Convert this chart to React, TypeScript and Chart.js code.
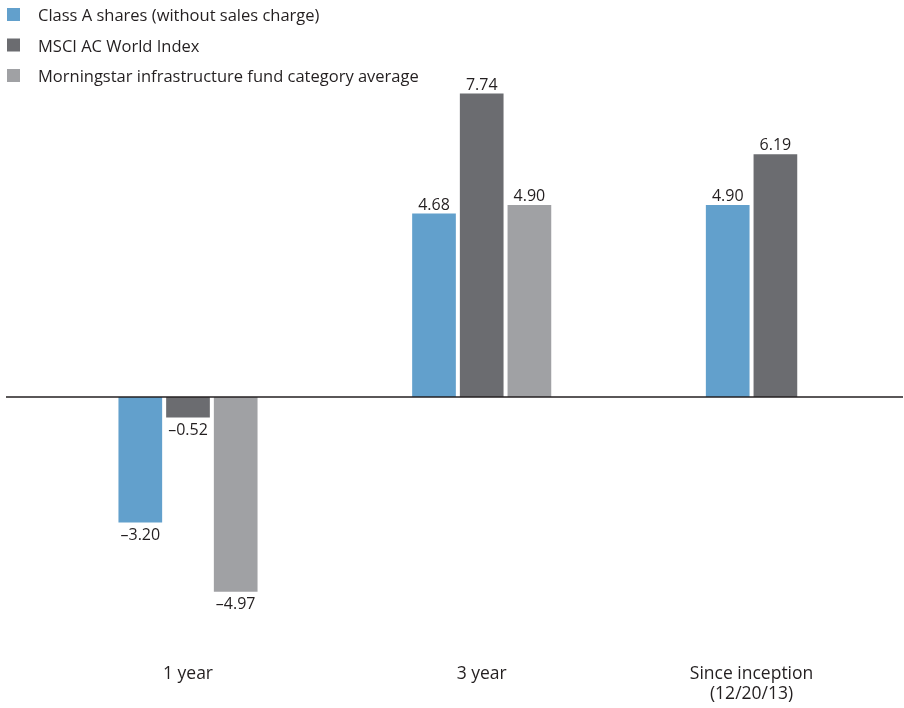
import React, { useEffect, useRef } from "react";
import { Chart, registerables } from "chart.js";

Chart.register(...registerables);

const categories: string[][] = [["1 year"], ["3 year"], ["Since inception", "(12/20/13)"]];
const seriesNames = [
  "Class A shares (without sales charge)",
  "MSCI AC World Index",
  "Morningstar infrastructure fund category average",
];
const classA: (number | null)[] = [-3.2, 4.68, 4.9];
const msciWorld: (number | null)[] = [-0.52, 7.74, 6.19];
const morningstar: (number | null)[] = [-4.97, 4.9, null];
const colors = ["#62A0CC", "#6B6C70", "#A0A1A4"];

const FONT = '"Open Sans", sans-serif';
const TEXT = "#231F20";

const W = 904;
const H = 708;
const X0 = 188; // pixel of first category
const XSTEP = 293.7;
const Y0 = 397; // pixel of zero
const YK = 39.2; // px per unit

function fmt(v: number) {
  return (v < 0 ? "\u2013" : "") + Math.abs(v).toFixed(2);
}

const overlay = {
  id: "overlay",
  afterDatasetsDraw(chart: any) {
    const ctx = chart.ctx;
    const y = chart.scales.y;
    ctx.save();
    // zero line
    const zy = Math.round(y.getPixelForValue(0));
    ctx.strokeStyle = TEXT;
    ctx.lineWidth = 1.3;
    ctx.beginPath();
    ctx.moveTo(6, zy);
    ctx.lineTo(903, zy);
    ctx.stroke();

    // value labels
    ctx.font = `16px ${FONT}`;
    ctx.fillStyle = TEXT;
    ctx.textAlign = "center";
    ctx.textBaseline = "alphabetic";
    const centers: number[][] = categories.map(() => []);
    chart.data.datasets.forEach((ds: any, di: number) => {
      const meta = chart.getDatasetMeta(di);
      meta.data.forEach((el: any, i: number) => {
        const v = ds.data[i].y;
        if (v === null || v === undefined) return;
        centers[i].push(el.x);
        if (v >= 0) ctx.fillText(fmt(v), el.x, el.y - 4);
        else ctx.fillText(fmt(v), el.x, el.y + 17.3);
      });
    });

    // category labels
    ctx.font = `17.5px ${FONT}`;
    categories.forEach((lines, i) => {
      const c = centers[i];
      const cx = c.reduce((a, b) => a + b, 0) / c.length;
      lines.forEach((t, li) => ctx.fillText(t, cx, 679 + li * 20));
    });

    // legend
    ctx.font = `16.5px ${FONT}`;
    ctx.textAlign = "left";
    chart.data.datasets.forEach((ds: any, di: number) => {
      const base = 21 + di * 30.5;
      ctx.fillStyle = ds.backgroundColor;
      ctx.fillRect(7, base - 13, 13, 13);
      ctx.fillStyle = TEXT;
      ctx.fillText(ds.label, 38, base);
    });
    ctx.restore();
  },
};

export default function App() {
  const ref = useRef<HTMLCanvasElement | null>(null);
  useEffect(() => {
    document.body.style.margin = "0";
    const series = [classA, msciWorld, morningstar];
    const chart = new Chart(ref.current!, {
      type: "bar",
      data: {
        datasets: series.map((vals, si) => ({
          label: seriesNames[si],
          data: vals.map((v, i) => ({ x: i, y: v })),
          backgroundColor: colors[si],
          borderWidth: 0,
          categoryPercentage: 0.4872,
          barPercentage: 0.916,
        })),
      },
      options: {
        responsive: false,
        animation: false,
        devicePixelRatio: 1,
        layout: { padding: 0 },
        plugins: { legend: { display: false }, tooltip: { enabled: false } },
        scales: {
          x: {
            type: "linear",
            display: false,
            offset: false,
            grid: { offset: false },
            min: -X0 / XSTEP,
            max: (W - X0) / XSTEP,
            afterBuildTicks: (s: any) => {
              s.ticks = categories.map((_, i) => ({ value: i }));
            },
          },
          y: {
            type: "linear",
            display: false,
            min: -(H - Y0) / YK,
            max: Y0 / YK,
          },
        },
      },
      plugins: [overlay],
    });
    return () => chart.destroy();
  }, []);
  return (
    <div style={{ width: W, height: H, overflow: "hidden" }}>
      <canvas ref={ref} width={W} height={H} style={{ display: "block" }} />
    </div>
  );
}
